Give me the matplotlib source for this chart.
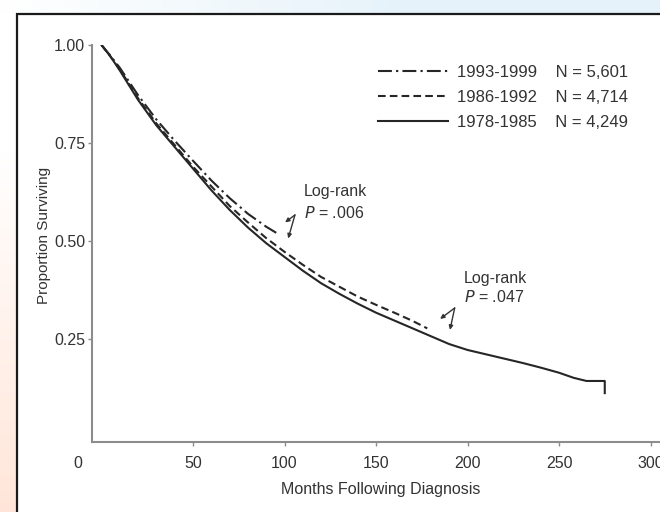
import numpy as np
import matplotlib
matplotlib.use("Agg")
import matplotlib.pyplot as plt
from matplotlib.patches import Rectangle

plt.rcParams['font.family'] = ['Liberation Sans', 'DejaVu Sans']
plt.rcParams['lines.scale_dashes'] = False

# Kaplan-Meier survival estimates by diagnosis period
months_7885 = [0, 5, 10, 20, 30, 40, 50, 60, 70, 80, 90, 100, 110, 120, 130, 140, 150,
               160, 170, 180, 190, 200, 210, 220, 230, 240, 250, 258, 265, 275, 275]
surv_7885 = [1.0, 0.97, 0.935, 0.86, 0.795, 0.74, 0.685, 0.63, 0.58, 0.535, 0.495, 0.46,
             0.425, 0.393, 0.366, 0.341, 0.318, 0.298, 0.278, 0.258, 0.238, 0.223, 0.212,
             0.201, 0.19, 0.178, 0.165, 0.152, 0.144, 0.144, 0.113]

months_8692 = [0, 5, 10, 20, 30, 40, 50, 60, 70, 80, 90, 100, 110, 120, 130, 140, 150,
               160, 170, 178]
surv_8692 = [1.0, 0.97, 0.938, 0.864, 0.80, 0.745, 0.69, 0.64, 0.59, 0.548, 0.508, 0.473,
             0.44, 0.409, 0.384, 0.359, 0.338, 0.318, 0.297, 0.278]

months_9399 = [0, 5, 10, 20, 30, 40, 50, 60, 70, 80, 90, 96]
surv_9399 = [1.0, 0.972, 0.942, 0.872, 0.81, 0.756, 0.705, 0.655, 0.61, 0.57, 0.537, 0.52]

periods = ['1993-1999', '1986-1992', '1978-1985']
counts = ['5,601', '4,714', '4,249']

x_ticks = [50, 100, 150, 200, 250, 300]
y_ticks = [0.25, 0.50, 0.75, 1.00]
y_tick_labels = ['0.25', '0.50', '0.75', '1.00']

W, H = 660, 512
fig = plt.figure(figsize=(W / 100, H / 100), dpi=100)

# soft page background behind the framed figure
bg = fig.add_axes([0, 0, 1, 1])
yy, xx = np.mgrid[0:H, 0:W]
img = np.ones((H, W, 3))
top = np.clip(xx / W * 1.6, 0, 1) * (yy < 14)
img[..., 0] -= 0.10 * top
img[..., 1] -= 0.05 * top
img[..., 2] -= 0.02 * top
left = (xx < 17) * np.clip((yy - 150) / (H - 150), 0, 1)
img[..., 1] -= 0.10 * left
img[..., 2] -= 0.15 * left
bg.imshow(img, extent=[0, 1, 0, 1], aspect='auto', origin='upper')
bg.add_patch(Rectangle((17 / W, -0.1), 1.2, (H - 14) / H + 0.1,
                       transform=bg.transAxes, fc='white', ec='#1a1a1a', lw=1.6))
bg.set_axis_off()

px_per_month = 1.83
x_left, x_right = -5.2, 310
ax_left_px, ax_bottom_px, ax_top_px = 92, 442, 45
ax_w_px = (x_right - x_left) * px_per_month
ax = fig.add_axes([ax_left_px / W, (H - ax_bottom_px) / H,
                   ax_w_px / W, (ax_bottom_px - ax_top_px) / H])
ax.patch.set_alpha(0)

line_kw = dict(color='#262626', lw=1.5)
l3, = ax.plot(months_9399, surv_9399, linestyle=(0, (10, 3, 1.6, 3)), **line_kw)
l2, = ax.plot(months_8692, surv_8692, linestyle=(0, (5.5, 3)), **line_kw)
l1, = ax.plot(months_7885, surv_7885, linestyle='-', **line_kw)

ax.set_xlim(x_left, x_right)
ax.set_ylim(-0.0115, 1.0)
for s in ['top', 'right']:
    ax.spines[s].set_visible(False)
for s in ['left', 'bottom']:
    ax.spines[s].set_color('#8c8c8c')
    ax.spines[s].set_linewidth(1.5)

ax.set_xticks(x_ticks)
ax.set_yticks(y_ticks)
ax.set_yticklabels(y_tick_labels)
ax.tick_params(axis='both', colors='#8c8c8c', length=3, width=1, labelsize=11.5,
               labelcolor='#333333')
ax.tick_params(axis='x', pad=7)
ax.tick_params(axis='y', pad=2)
# the origin label sits left of the axis corner
ax.annotate('0', xy=(-12.8, 0), xycoords=('data', 'axes fraction'),
            xytext=(0, -10), textcoords='offset points', fontsize=11.5,
            color='#333333', ha='center', va='top', annotation_clip=False)

ax.set_xlabel('Months Following Diagnosis', fontsize=11.5, color='#333333', labelpad=8)
ax.set_ylabel('Proportion Surviving', fontsize=11, color='#333333')
ax.yaxis.set_label_coords(-41 / ax_w_px, 0.52)

leg = ax.legend([l3, l2, l1],
                [f'{p}    N = {n}' for p, n in zip(periods, counts)],
                loc='upper left', bbox_to_anchor=(378 / W, 1 - 65 / H),
                bbox_transform=fig.transFigure, frameon=False, fontsize=12,
                handlelength=4.2, handletextpad=0.55, borderpad=0, borderaxespad=0,
                labelspacing=0.6)
for t in leg.get_texts():
    t.set_color('#333333')

# log-rank annotations
note_kw = dict(fontsize=11.5, color='#333333', ha='left', va='center')
ax.text(110.5, 0.628, 'Log-rank', **note_kw)
ax.text(110.5, 0.572, r'$\it{P}$ = .006', **note_kw)
ax.text(198, 0.404, 'Log-rank', **note_kw)
ax.text(198, 0.358, r'$\it{P}$ = .047', **note_kw)

arrow_kw = dict(arrowstyle='-|>,head_length=0.25,head_width=0.12', color='#333333', lw=1.0,
                shrinkA=0, shrinkB=0)
for tip in [(100.3, 0.548), (102.0, 0.507)]:
    ax.annotate('', xy=tip, xytext=(105.7, 0.567), arrowprops=arrow_kw)
for tip in [(185.0, 0.302), (190.4, 0.274)]:
    ax.annotate('', xy=tip, xytext=(193.0, 0.330), arrowprops=arrow_kw)

fig.savefig('out.png', dpi=100)
